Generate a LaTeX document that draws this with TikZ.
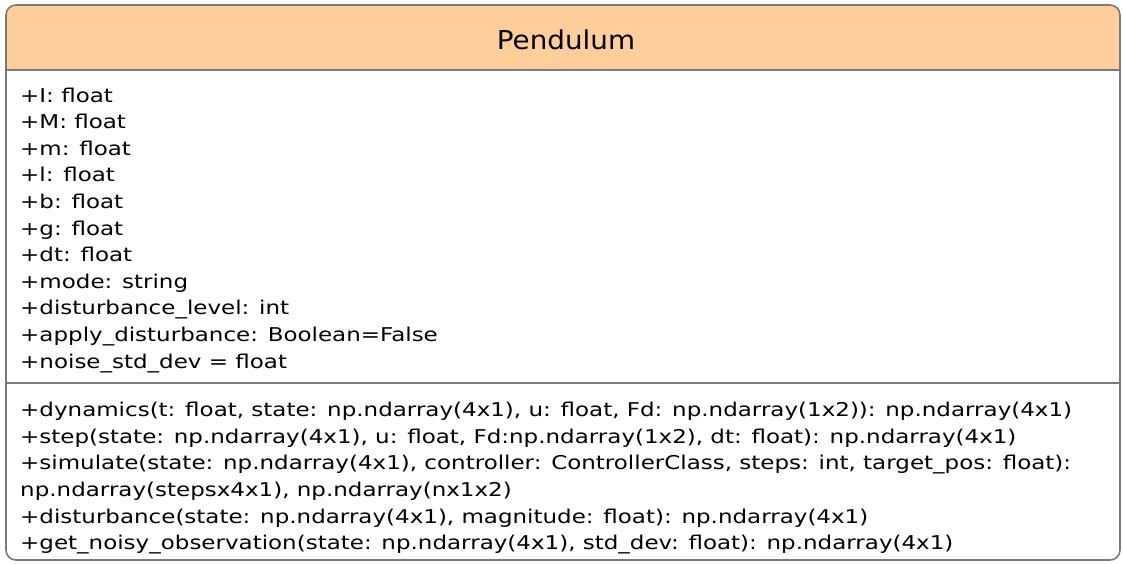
\documentclass[tikz,border=0pt]{standalone}
\usepackage{fontspec}
\setmainfont{DejaVu Sans}[FakeStretch=1.21]
\newfontfamily\titlefont{DejaVu Sans}[FakeStretch=1.07]
\definecolor{headfill}{HTML}{FFCE9A}
\definecolor{edge}{HTML}{7A7A7A}
\tikzset{
  member/.style={anchor=base west, inner sep=0pt, font=\fontsize{19}{22}\selectfont, text=black},
  titletext/.style={anchor=base, inner sep=0pt, font=\titlefont\fontsize{26}{30}\selectfont},
  frame/.style={draw=edge, line width=1.6pt},
}
\begin{document}
\begin{tikzpicture}[x=1pt,y=-1pt]
\useasboundingbox (0,0) rectangle (1123,563);
% class box: header, attribute and method compartments
\fill[white, rounded corners=10pt] (6,5) rectangle (1120,560);
\fill[headfill, rounded corners=10pt] (6,70) -- (6,5) -- (1120,5) -- (1120,70);
\fill[headfill] (6,50) rectangle (1120,70);
\draw[frame, rounded corners=10pt] (6,5) rectangle (1120,560);
\draw[frame] (6,70) -- (1120,70);
\draw[frame] (6,383) -- (1120,383);
\node[titletext] (title) at (566,49.3) {Pendulum};
% attributes
\foreach \t [count=\i from 0] in {
  {+I: float}, {+M: float}, {+m: float}, {+l: float}, {+b: float}, {+g: float},
  {+dt: float}, {+mode: string}, {+disturbance\_level: int},
  {+apply\_disturbance: Boolean=False}, {+noise\_std\_dev = float}}
  \node[member] (attr\i) at (20,102+26.6*\i) {\t};
% operations
\foreach \t [count=\i from 0] in {
  {+dynamics(t: float, state: np.ndarray(4x1), u: float, Fd: np.ndarray(1x2)): np.ndarray(4x1)},
  {+step(state: np.ndarray(4x1), u: float, Fd:np.ndarray(1x2), dt: float): np.ndarray(4x1)},
  {+simulate(state: np.ndarray(4x1), controller: ControllerClass, steps: int, target\_pos: float):},
  {np.ndarray(stepsx4x1), np.ndarray(nx1x2)},
  {+disturbance(state: np.ndarray(4x1), magnitude: float): np.ndarray(4x1)},
  {+get\_noisy\_observation(state: np.ndarray(4x1), std\_dev: float): np.ndarray(4x1)}}
  \node[member] (op\i) at (20,416.7+26.6*\i) {\t};
\end{tikzpicture}
\end{document}
